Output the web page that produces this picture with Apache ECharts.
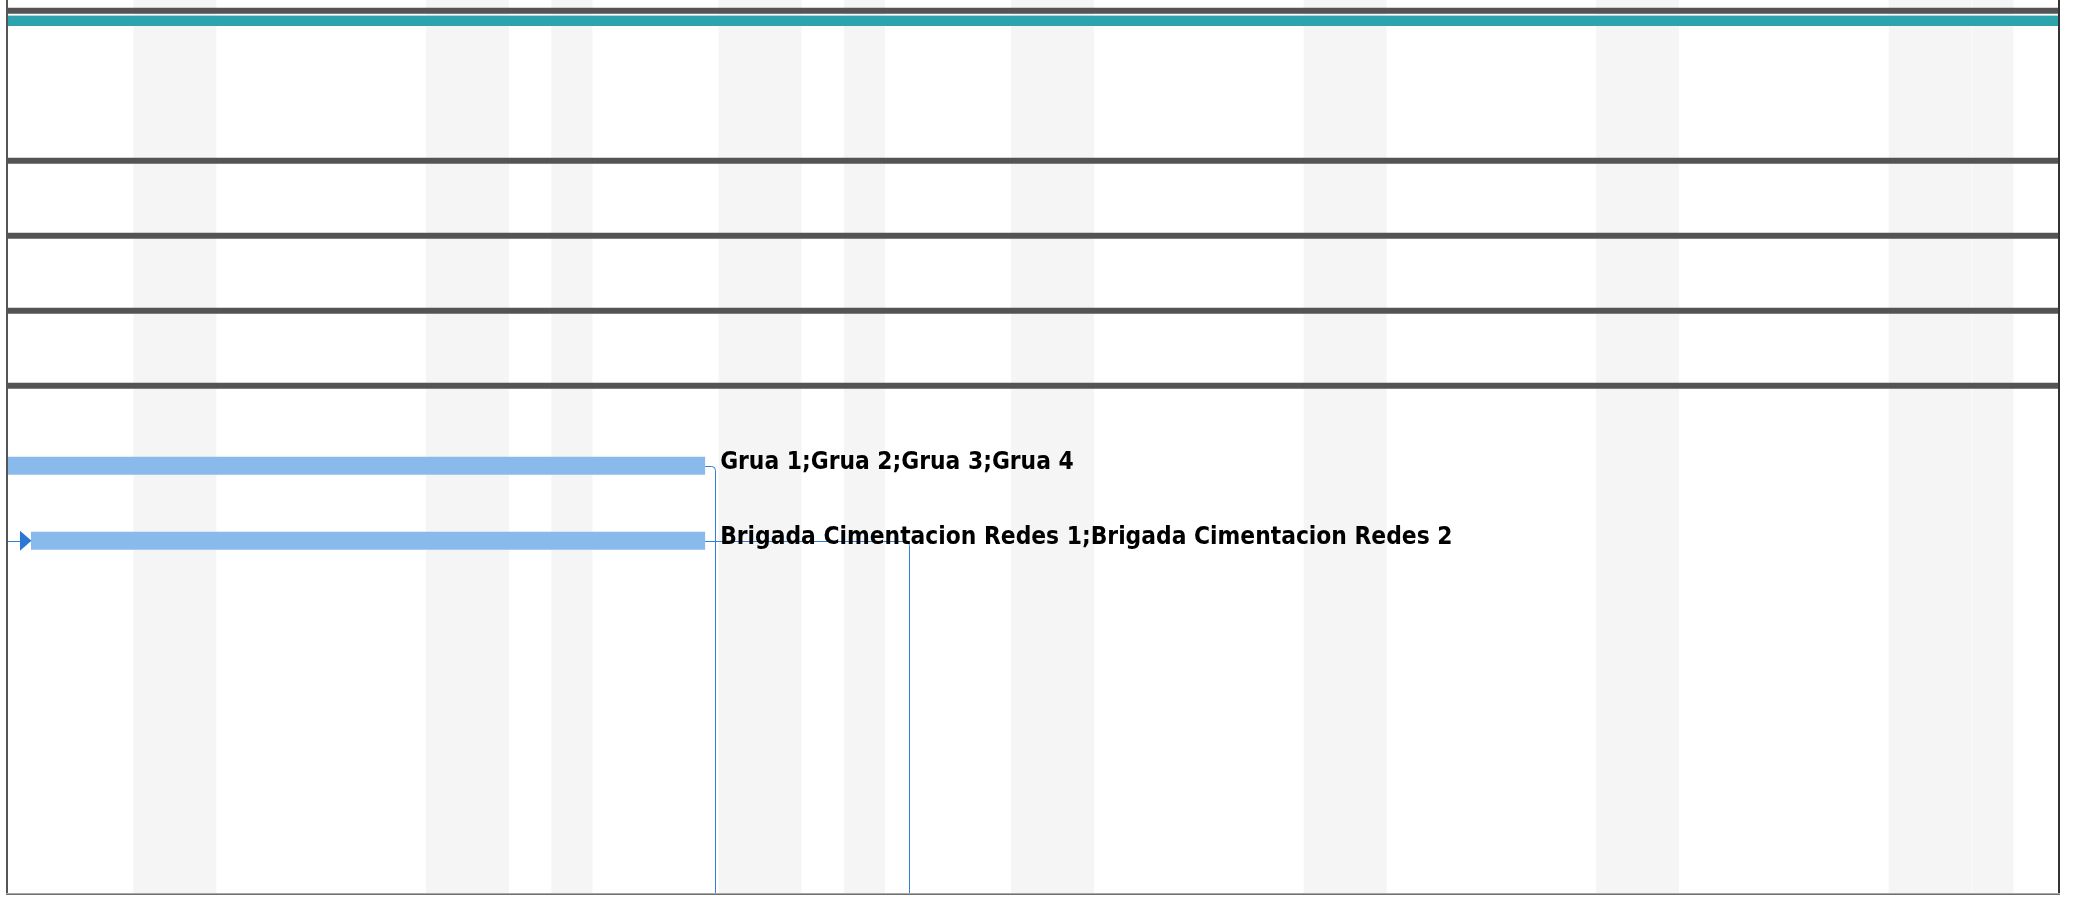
<!DOCTYPE html>
<html><head><meta charset="utf-8">
<script src="https://cdn.jsdelivr.net/npm/echarts@6/dist/echarts.min.js"></script>
<style>html,body{margin:0;padding:0;background:#fff}#c{width:2076px;height:900px}</style>
</head><body><div id="c"></div>
<script>
// Time axis: working-calendar days counted from the left edge of the visible timescale
const nonWorkingStart = [3, 10, 13, 17, 20, 24, 31, 38, 45, 47];
const nonWorkingEnd   = [5, 12, 14, 19, 21, 26, 33, 40, 47, 48];

// Summary tasks (run past both edges of the view)
const summaryRows  = [0, 2, 3, 4, 5];
const summaryStart = [-5, -5, -5, -5, -5];
const summaryEnd   = [60, 60, 60, 60, 60];

// Project summary bar (teal)
const projectRows  = [0];
const projectStart = [-5];
const projectEnd   = [60];

// Normal tasks
const taskRows   = [6, 7];
const taskStart  = [-3, 0.55];
const taskEnd    = [16.68, 16.68];
const taskLabels = ['Grua 1;Grua 2;Grua 3;Grua 4',
                    'Brigada Cimentacion Redes 1;Brigada Cimentacion Redes 2'];
const taskSuccessorStart = [16.91, 21.56];
const taskHasPredecessor = [0, 1];

const LINK = '#2f80d8';
const BAR = '#8abaec';

const chart = echarts.init(document.getElementById('c'), null, {renderer: 'canvas'});

const bandData = nonWorkingStart.map((s, i) => [s, nonWorkingEnd[i]]);
const summaryData = summaryRows.map((r, i) => [summaryStart[i], summaryEnd[i], r]);
const projectData = projectRows.map((r, i) => [projectStart[i], projectEnd[i], r]);
const taskData = taskRows.map((r, i) => [taskStart[i], taskEnd[i], r, taskSuccessorStart[i], taskHasPredecessor[i], i]);

function gridRect(params) { return params.coordSys; }

chart.setOption({
  animation: false,
  backgroundColor: '#ffffff',
  grid: {left: 8, top: 0, width: 2050, height: 893, show: false},
  xAxis: {type: 'value', min: 0, max: 49.05, show: false},
  yAxis: {type: 'value', min: -0.209, max: 11.698, inverse: true, show: false},
  series: [
    {
      type: 'custom', clip: true, z: 1,
      data: bandData,
      renderItem(params, api) {
        const cs = gridRect(params);
        const x0 = api.coord([api.value(0), 0])[0];
        const x1 = api.coord([api.value(1), 0])[0];
        return {type: 'rect', shape: {x: x0, y: cs.y, width: x1 - x0 - 0.6, height: cs.height},
                style: {fill: '#f5f5f5'}};
      }
    },
    {
      type: 'custom', clip: true, z: 3,
      data: summaryData,
      renderItem(params, api) {
        const a = api.coord([api.value(0), api.value(2)]);
        const b = api.coord([api.value(1), api.value(2)]);
        return {type: 'rect', shape: {x: a[0], y: a[1] - 7.8, width: b[0] - a[0], height: 6},
                style: {fill: '#545454'}};
      }
    },
    {
      type: 'custom', clip: true, z: 3,
      data: projectData,
      renderItem(params, api) {
        const a = api.coord([api.value(0), api.value(2)]);
        const b = api.coord([api.value(1), api.value(2)]);
        return {type: 'group', children: [
          {type: 'rect', shape: {x: a[0], y: a[1] - 0.7, width: b[0] - a[0], height: 1},
           style: {fill: '#a9dbe0'}},
          {type: 'rect', shape: {x: a[0], y: a[1] + 0.3, width: b[0] - a[0], height: 10},
           style: {fill: '#2ca3ad'}}
        ]};
      }
    },
    {
      type: 'custom', clip: true, z: 4,
      data: taskData,
      renderItem(params, api) {
        const cs = gridRect(params);
        const row = api.value(2);
        const a = api.coord([api.value(0), row]);
        const b = api.coord([api.value(1), row]);
        const s = api.coord([api.value(3), row]);
        const cy = a[1];
        const bottom = cs.y + cs.height;
        const idx = api.value(5);
        const ly = Math.round(cy) + 0.5;
        const sx = Math.round(s[0]) + 0.5;
        const r = 4;
        const children = [];
        // successor link
        children.push({type: 'path', z2: 1,
          shape: {pathData: `M${b[0]} ${ly} L${sx - r} ${ly} Q${sx} ${ly} ${sx} ${ly + r} L${sx} ${bottom}`},
          style: {stroke: LINK, lineWidth: 1, fill: null}});
        // predecessor arrow from outside the view
        if (api.value(4)) {
          children.push({type: 'line', z2: 1,
            shape: {x1: cs.x, y1: ly, x2: a[0] - 11, y2: ly},
            style: {stroke: LINK, lineWidth: 1}});
          children.push({type: 'polygon', z2: 3,
            shape: {points: [[a[0] - 11, cy - 10], [a[0] + 0.5, cy], [a[0] - 11, cy + 10]]},
            style: {fill: '#2a78d4'}});
        }
        // bar
        children.push({type: 'rect', z2: 2,
          shape: {x: a[0], y: cy - 9, width: b[0] - a[0], height: 18},
          style: {fill: BAR}});
        // resource label
        children.push({type: 'text', z2: 4,
          style: {text: taskLabels[idx], x: b[0] + 15, y: cy - 2.5,
                  fill: '#000000', font: 'bold 24.3px "DejaVu Sans Condensed", "DejaVu Sans", sans-serif',
                  align: 'left', verticalAlign: 'middle'}});
        return {type: 'group', children};
      }
    }
  ],
  graphic: [
    {type: 'rect', shape: {x: 6, y: 0, width: 2, height: 895}, style: {fill: '#555555'}, z: 100},
    {type: 'rect', shape: {x: 2058, y: 0, width: 2, height: 895}, style: {fill: '#333333'}, z: 100},
    {type: 'rect', shape: {x: 6, y: 893, width: 2054, height: 1}, style: {fill: '#a8a8a8'}, z: 100},
    {type: 'rect', shape: {x: 6, y: 894, width: 2054, height: 1}, style: {fill: '#707070'}, z: 100}
  ]
});
</script></body></html>
